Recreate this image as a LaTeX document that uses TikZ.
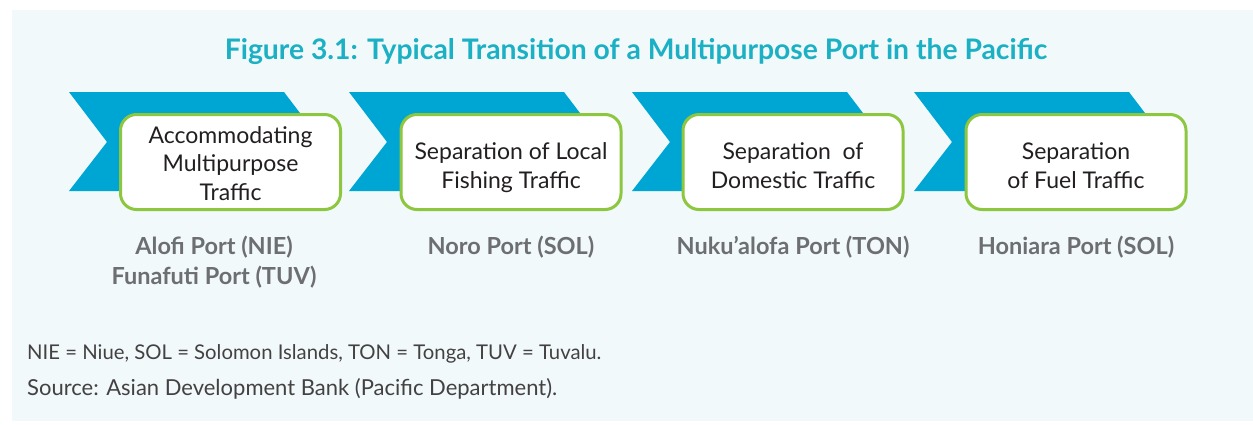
\documentclass[tikz,border=0pt]{standalone}
\usepackage{fontspec}
\setmainfont{Lato}
\definecolor{bgc}{HTML}{F1F9FB}
\definecolor{chev}{HTML}{00A6D3}
\definecolor{titlec}{HTML}{1BB0C4}
\definecolor{boxg}{HTML}{8DC63F}
\definecolor{labg}{HTML}{6D6E71}
\definecolor{txt}{HTML}{231F20}
\tikzset{
  chevron/.style={fill=chev, draw=none},
  stagebox/.style={draw=boxg, line width=3pt, fill=white, rounded corners=16pt,
    minimum width=220pt, minimum height=95pt, inner sep=0pt},
  stagetext/.style={align=center, text=txt, font=\fontsize{23}{28.5}\selectfont, inner sep=0pt, anchor=base},
  portlabel/.style={align=center, text=labg, font=\fontsize{23.5}{30}\selectfont\bfseries, inner sep=0pt, anchor=base},
  titletext/.style={text=titlec, font=\fontsize{28.3}{34}\selectfont\bfseries, inner sep=0pt, anchor=base},
  notetext/.style={text=txt!85, inner sep=0pt, anchor=base west}
}
\begin{document}
\begin{tikzpicture}[x=1pt,y=-1pt]
\useasboundingbox (0,0) rectangle (1253,424);
\fill[bgc] (12,10) rectangle (1253,421);
\node[titletext] (title) at (636,59) {Figure 3.1: Typical Transition of a Multipurpose Port in the Pacific};
\foreach \x in {69,349,632,914}{
  \fill[chevron] (\x,92) -- (\x+215,92) -- (\x+253,142) -- (\x+215,191) -- (\x,191) -- (\x+38,142) -- cycle;
}
\node[stagebox] (b1) at (230.5,162) {};
\node[stagebox] (b2) at (511,162) {};
\node[stagebox] (b3) at (793,162) {};
\node[stagebox] (b4) at (1076,162) {};
\node[stagetext] (t1) at (230.5,200) {Accommodating\\Multipurpose\\Traffic};
\node[stagetext] (t2) at (511,188) {Separation of Local\\Fishing Traffic};
\node[stagetext] (t3) at (793,188) {Separation\ \ of\\Domestic Traffic};
\node[stagetext] (t4) at (1076,188) {Separation\\of Fuel Traffic};
\node[portlabel] (l1) at (214,284) {Alofi Port (NIE)\\Funafuti Port (TUV)};
\node[portlabel] (l2) at (511,254) {Noro Port (SOL)};
\node[portlabel] (l3) at (793,254) {Nuku’alofa Port (TON)};
\node[portlabel] (l4) at (1076,254) {Honiara Port (SOL)};
\node[notetext, font=\fontsize{20.3}{24}\selectfont] (n1) at (27,359) {NIE = Niue, SOL = Solomon Islands, TON = Tonga, TUV = Tuvalu.};
\node[notetext, font=\fontsize{22}{24}\selectfont] (n2) at (27,395) {Source: Asian Development Bank (Pacific Department).};
\end{tikzpicture}
\end{document}
